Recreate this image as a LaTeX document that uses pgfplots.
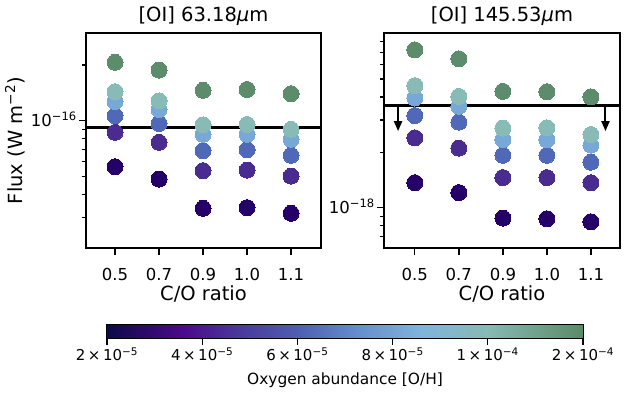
\documentclass[border=0pt]{standalone}
\usepackage{fontspec}
\setmainfont{DejaVu Sans}
\usepackage{pgfplots}
\pgfplotsset{compat=1.18}
\usetikzlibrary{arrows.meta}

\definecolor{cA}{RGB}{36,0,104}
\definecolor{cB}{RGB}{74,44,144}
\definecolor{cC}{RGB}{80,104,184}
\definecolor{cD}{RGB}{120,168,216}
\definecolor{cE}{RGB}{136,186,182}
\definecolor{cF}{RGB}{92,140,108}

\newcommand{\tsup}[1]{\textsuperscript{#1}}

\pgfplotsset{
  colormap={oxy}{[1pt] rgb255(0pt)=(12,10,72); rgb255(8pt)=(75,10,138); rgb255(14pt)=(74,58,156); rgb255(20pt)=(78,94,176); rgb255(26pt)=(100,140,204); rgb255(33pt)=(128,180,220); rgb255(40pt)=(134,186,180); rgb255(50pt)=(90,138,104)},
  myaxstyle/.style={
    scale only axis,
    axis line style={line width=1.5pt},
    tick align=outside, tick pos=left,
    major tick length=7pt, minor tick length=4pt,
    every tick/.append style={black, line width=1.3pt},
    tick label style={font=\fontsize{16.5}{19}\selectfont},
    label style={font=\fontsize{19.5}{23}\selectfont},
    title style={font=\fontsize{19.5}{23}\selectfont, at={(0.5,1.028)}, anchor=base, yshift=0pt},
    xticklabel style={anchor=base, yshift=-25pt, inner sep=0pt},
    yticklabel style={anchor=base east, xshift=-2pt, yshift=-6pt, inner sep=0pt},
    xlabel style={at={(0.5,-0.242)}, anchor=base},
    xtick={0,1,2,3,4}, xticklabels={0.5,0.7,0.9,1.0,1.1},
    xlabel={C/O ratio},
  },
  mydots/.style={only marks, mark=*, mark size=8pt, mark options={draw=#1, fill=#1, line width=0pt}},
}

\begin{document}
\begin{tikzpicture}
\useasboundingbox (0pt,0pt) rectangle (624pt,395pt);

% ---------- left panel ----------
\begin{axis}[myaxstyle, ymode=log,
  at={(86pt,147pt)}, anchor=south west, width=235pt, height=215pt,
  xmin=-0.66, xmax=4.68, ymin=2.05e-17, ymax=2.98e-16,
  ytick={1e-16}, yticklabels={10\tsup{−16}},
  minor ytick={2e-17,3e-17,4e-17,5e-17,6e-17,7e-17,8e-17,9e-17,2e-16},
  title={[OI] 63.18\textit{μ}m},
  ylabel={Flux (W m\tsup{−2})},
  ylabel style={at={(-0.27,0.5)}, anchor=base},
]
\addplot[black, line width=3pt] coordinates {(-2,9.17e-17) (6,9.17e-17)};
\addplot[mydots=cA] coordinates {(0,5.64e-17) (1,4.84e-17) (2,3.36e-17) (3,3.39e-17) (4,3.16e-17)};
\addplot[mydots=cB] coordinates {(0,8.65e-17) (1,7.64e-17) (2,5.37e-17) (3,5.41e-17) (4,5.02e-17)};
\addplot[mydots=cC] coordinates {(0,1.064e-16) (1,9.67e-17) (2,6.89e-17) (3,6.97e-17) (4,6.5e-17)};
\addplot[mydots=cD] coordinates {(0,1.27e-16) (1,1.15e-16) (2,8.44e-17) (3,8.44e-17) (4,7.93e-17)};
\addplot[mydots=cE] coordinates {(0,1.435e-16) (1,1.28e-16) (2,9.5e-17) (3,9.55e-17) (4,8.98e-17)};
\addplot[mydots=cF] coordinates {(0,2.07e-16) (1,1.88e-16) (2,1.46e-16) (3,1.476e-16) (4,1.40e-16)};
\end{axis}

% ---------- right panel ----------
\begin{axis}[myaxstyle, ymode=log,
  at={(384pt,147pt)}, anchor=south west, width=236pt, height=215pt,
  xmin=-0.7, xmax=4.66, ymin=6.05e-19, ymax=8.9e-18,
  ytick={1e-18}, yticklabels={10\tsup{−18}},
  minor ytick={7e-19,8e-19,9e-19,2e-18,3e-18,4e-18,5e-18,6e-18,7e-18,8e-18},
  title={[OI] 145.53\textit{μ}m},
]
\addplot[black, line width=3pt] coordinates {(-2,3.6e-18) (6,3.6e-18)};
\addplot[black, line width=2pt, -{Triangle[length=10pt,width=8pt]}] coordinates {(-0.38,3.6e-18) (-0.38,2.61e-18)};
\addplot[black, line width=2pt, -{Triangle[length=10pt,width=8pt]}] coordinates {(4.33,3.6e-18) (4.33,2.61e-18)};
\addplot[mydots=cA] coordinates {(0,1.37e-18) (1,1.21e-18) (2,8.80e-19) (3,8.72e-19) (4,8.40e-19)};
\addplot[mydots=cB] coordinates {(0,2.40e-18) (1,2.11e-18) (2,1.46e-18) (3,1.46e-18) (4,1.37e-18)};
\addplot[mydots=cC] coordinates {(0,3.17e-18) (1,2.92e-18) (2,1.93e-18) (3,1.93e-18) (4,1.77e-18)};
\addplot[mydots=cD] coordinates {(0,3.95e-18) (1,3.56e-18) (2,2.35e-18) (3,2.34e-18) (4,2.19e-18)};
\addplot[mydots=cE] coordinates {(0,4.61e-18) (1,4.03e-18) (2,2.71e-18) (3,2.72e-18) (4,2.50e-18)};
\addplot[mydots=cF] coordinates {(0,7.21e-18) (1,6.45e-18) (2,4.29e-18) (3,4.27e-18) (4,4.0e-18)};
\end{axis}

% ---------- colorbar ----------
\begin{axis}[
  at={(107pt,57pt)}, anchor=south west, scale only axis, width=476pt, height=13pt,
  xmin=0, xmax=5, ymin=0, ymax=1, ytick=\empty,
  axis line style={line width=1.5pt},
  tick align=outside, tick pos=left, major tick length=7pt,
  every tick/.append style={black, line width=1.3pt},
  xtick={0,1,2,3,4,5},
  xticklabels={2\,×\,10\tsup{−5},4\,×\,10\tsup{−5},6\,×\,10\tsup{−5},8\,×\,10\tsup{−5},1\,×\,10\tsup{−4},2\,×\,10\tsup{−4}},
  xticklabel style={font=\fontsize{15}{18}\selectfont, anchor=base, yshift=-15.3pt, inner sep=0pt},
  xlabel={Oxygen abundance [O/H]},
  xlabel style={font=\fontsize{15.4}{18}\selectfont, at={(0.5,-3.615)}, anchor=base},
  colormap name=oxy, point meta min=0, point meta max=5,
]
\addplot[surf, shader=interp, point meta=x, mesh/rows=2, mesh/cols=2] coordinates {(0,0) (5,0) (0,1) (5,1)};
\end{axis}
\end{tikzpicture}
\end{document}
